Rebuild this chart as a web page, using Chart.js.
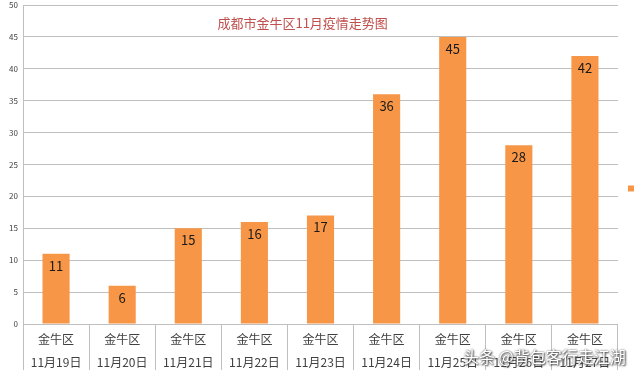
<!doctype html>
<html lang="zh">
    <head>
        <meta charset="UTF-8"/>
        <title>成都市金牛区11月疫情走势图</title>
        <script src="https://cdn.jsdelivr.net/npm/chart.js@4.4.0/dist/chart.umd.min.js"></script>
        <style>
         html, body {
             margin: 0;
             padding: 0;
             overflow: hidden;
             background: #fff;
         }
         #wrap {
             position: relative;
             width: 700px;
             height: 375px;
         }
         #mark {
             position: absolute;
             left: 463px;
             top: 344px;
             font: 16px "Noto Sans CJK SC", sans-serif;
             color: #fff;
             text-shadow: 0 0 2px #555, 1px 1px 2px #333;
             white-space: nowrap;
         }
        </style>
    </head>
    <body>
        <div id="wrap">
            <canvas id="chart" width="700" height="375"></canvas>
            <div id="mark">头条 @背包客行走江湖</div>
        </div>
        <script>
         const chartTitle = '成都市金牛区11月疫情走势图';
         const district = '金牛区';
         const days = ['11月19日', '11月20日', '11月21日', '11月22日', '11月23日',
                       '11月24日', '11月25日', '11月26日', '11月27日'];
         const cases = [11, 6, 15, 16, 17, 36, 45, 28, 42];
         const yTicks = [0, 5, 10, 15, 20, 25, 30, 35, 40, 45, 50];

         const labels = days.map(d => [district, d]);
         const font = '"Noto Sans CJK SC", "Noto Sans", sans-serif';

         // values on the bars + the title that sits inside the plot
         const extras = {
             id: 'extras',
             afterDatasetsDraw(chart) {
                 const ctx = chart.ctx;
                 const meta = chart.getDatasetMeta(0);
                 ctx.save();
                 ctx.fillStyle = '#1a1a1a';
                 ctx.font = '13px ' + font;
                 ctx.textAlign = 'center';
                 ctx.textBaseline = 'middle';
                 meta.data.forEach((bar, i) => {
                     ctx.fillText(cases[i], bar.x, bar.y + 12);
                 });
                 const area = chart.chartArea;
                 ctx.fillStyle = '#c0504d';
                 ctx.font = '13px ' + font;
                 ctx.fillText(chartTitle, area.left + area.width * 0.47, area.top + 18);
                 ctx.restore();
             }
         };

         const ctx = document.getElementById('chart').getContext('2d');
         new Chart(ctx, {
             type: 'bar',
             data: {
                 labels: labels,
                 datasets: [{
                     label: district,
                     data: cases,
                     backgroundColor: '#f79646',
                     borderWidth: 0,
                     barPercentage: 0.82,
                     categoryPercentage: 0.5
                 }]
             },
             options: {
                 responsive: false,
                 animation: false,
                 devicePixelRatio: 1,
                 layout: {
                     padding: { top: 5, right: 14, bottom: 3, left: 0 }
                 },
                 plugins: {
                     legend: {
                         position: 'right',
                         labels: {
                             boxWidth: 6,
                             boxHeight: 6,
                             color: '#404040',
                             font: { family: font, size: 12 }
                         }
                     },
                     title: { display: false },
                     tooltip: { enabled: false }
                 },
                 scales: {
                     x: {
                         offset: true,
                         grid: {
                             offset: true,
                             drawOnChartArea: false,
                             tickLength: 46,
                             color: '#bfbfbf'
                         },
                         border: { color: '#bfbfbf' },
                         ticks: {
                             padding: -42,
                             color: '#404040',
                             maxRotation: 0,
                             autoSkip: false,
                             font: { family: font, size: 12, lineHeight: 1.9 }
                         },
                         afterFit(scale) { scale.height = 48; }
                     },
                     y: {
                         min: 0,
                         max: 50,
                         afterBuildTicks(scale) {
                             scale.ticks = yTicks.map(v => ({ value: v }));
                         },
                         grid: { color: '#bfbfbf', drawTicks: false },
                         border: { color: '#bfbfbf' },
                         ticks: {
                             padding: 5,
                             color: '#404040',
                             font: { family: font, size: 8 }
                         },
                         afterFit(scale) {
                             scale.width = 23;
                             scale.paddingTop = 0;
                         }
                     }
                 }
             },
             plugins: [extras]
         });
        </script>
    </body>
</html>
